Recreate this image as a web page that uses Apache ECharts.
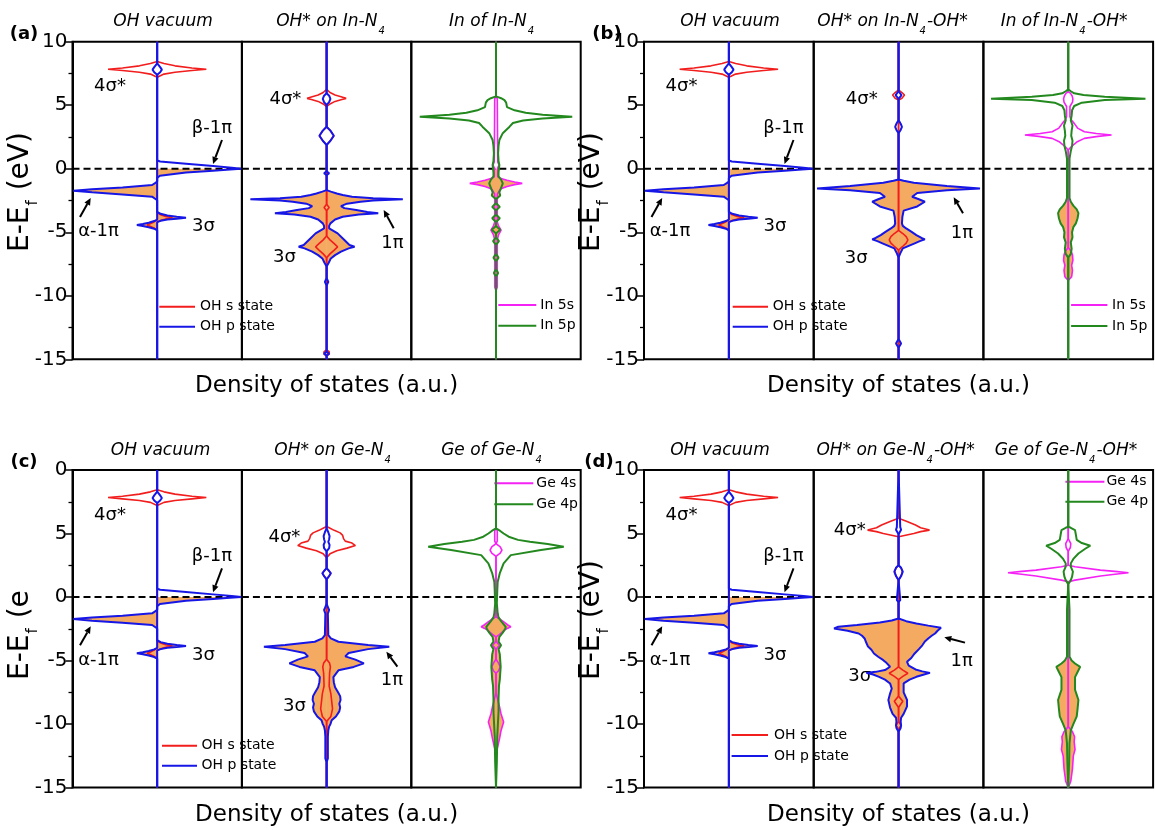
<!DOCTYPE html>
<html><head><meta charset="utf-8">
<script src="https://cdn.jsdelivr.net/npm/echarts@6/dist/echarts.min.js"></script>
<style>html,body{margin:0;padding:0;background:#fff}#c{width:1155px;height:830px}</style>
</head><body><div id="c"></div>
<script>
// ---------- axis ranges / ticks ----------
const E_MIN = -15, E_MAX = 10, E_STEP = 5;
const DOS_HALF = 10;

// ---------- data: [energy (eV), DOS (a.u.)] ----------
// OH vacuum (identical in all four panels)
const ohVacS_up = [[-15,0],[-4.85,0],[-4.7,0.3],[-4.56,0.7],[-4.43,1.2],[-4.3,0.7],[-4.15,0.3],[-4.0,0],[7.2,0],[7.45,0.8],[7.6,2.1],[7.73,4.1],[7.83,5.8],[7.93,4.1],[8.1,2.1],[8.28,0.8],[8.45,0],[10,0]];
const ohVacS_dn = [[-15,0],[-4.2,0],[-4.08,0.4],[-3.96,1.0],[-3.86,1.8],[-3.76,1.0],[-3.62,0.4],[-3.45,0],[7.2,0],[7.45,0.8],[7.6,2.1],[7.73,4.1],[7.83,5.8],[7.93,4.1],[8.1,2.1],[8.28,0.8],[8.45,0],[10,0]];
const ohVacP_up = [[-15,0],[-4.85,0],[-4.72,0.35],[-4.6,1.0],[-4.5,1.7],[-4.43,2.4],[-4.35,1.7],[-4.25,1.0],[-4.12,0.35],[-4.0,0],[-2.48,0],[-2.36,0.25],[-2.2,0.6],[-2.02,4.1],[-1.86,7.7],[-1.73,9.9],[-1.62,7.7],[-1.47,4.1],[-1.28,0.6],[-1.13,0.25],[-1.0,0],[7.4,0],[7.6,0.35],[7.8,0.55],[8.0,0.35],[8.3,0],[10,0]];
const ohVacP_dn = [[-15,0],[-4.2,0],[-4.1,0.4],[-4.0,1.2],[-3.93,2.3],[-3.86,3.4],[-3.78,2.3],[-3.68,1.2],[-3.55,0.4],[-3.4,0],[-0.72,0],[-0.55,0.32],[-0.3,3.4],[-0.15,6.6],[-0.06,8.6],[0,9.9],[0.08,8.8],[0.21,6.6],[0.4,3.4],[0.57,0.35],[0.63,0.3],[0.65,0],[7.4,0],[7.6,0.35],[7.8,0.55],[8.0,0.35],[8.3,0],[10,0]];

// OH* on In-N4
const inN4_S = [[-15,0],[-14.75,0],[-14.6,0.3],[-14.5,0.45],[-14.4,0.3],[-14.25,0],[-7.0,0],[-6.7,0.4],[-6.4,0.9],[-6.15,1.3],[-5.9,0.9],[-5.6,0.4],[-5.3,0],[-3.3,0],[-3.05,0.3],[-2.8,0],[1.87,0],[2.2,0.45],[2.6,0.85],[3.0,0.45],[3.3,0],[4.88,0],[5.1,0.4],[5.3,1.0],[5.45,1.8],[5.54,2.3],[5.65,1.8],[5.8,1.0],[6.0,0.4],[6.25,0],[10,0]];
const inN4_P = [[-15,0],[-14.7,0],[-14.55,0.3],[-14.4,0],[-9.2,0],[-8.9,0.2],[-8.6,0],[-7.7,0],[-7.4,0.25],[-7.06,0.5],[-6.8,1.0],[-6.53,1.7],[-6.27,2.6],[-6.14,3.3],[-6.0,2.7],[-5.61,2.1],[-5.09,1.3],[-4.85,0.7],[-4.7,0.3],[-4.5,0.3],[-4.3,0.45],[-4.17,0.6],[-4.0,1.0],[-3.78,1.9],[-3.6,3.8],[-3.51,6.1],[-3.4,4.8],[-3.25,3.5],[-3.1,2.1],[-2.94,1.7],[-2.75,2.4],[-2.6,4.0],[-2.5,5.5],[-2.41,9.0],[-2.33,5.5],[-2.2,3.0],[-2.07,1.9],[-1.95,1.2],[-1.8,0.5],[-1.68,0],[-0.5,0],[-0.35,0.3],[-0.2,0],[1.87,0],[2.2,0.45],[2.6,0.85],[3.0,0.45],[3.3,0],[5.02,0],[5.25,0.3],[5.5,0.45],[5.75,0.3],[5.94,0],[10,0]];
// In of In-N4
const inN4_In5s = [[-15,0],[-9.6,0],[-9.3,0.15],[-5.6,0.15],[-5.2,0.3],[-4.83,0.6],[-4.5,0.3],[-4.2,0.15],[-2.0,0.15],[-1.85,0],[-1.6,0.5],[-1.4,1.3],[-1.25,2.2],[-1.15,3.1],[-1.05,2.2],[-0.9,1.3],[-0.75,0.5],[-0.63,0.2],[0.05,0.2],[0.3,0.35],[0.55,0.2],[5.5,0.15],[5.7,0],[10,0]];
const inN4_In5p = [[-15,0],[-8.5,0],[-8.2,0.25],[-7.9,0],[-7.3,0],[-7.0,0.3],[-6.7,0],[-6.0,0],[-5.7,0.35],[-5.4,0],[-5.1,0],[-4.8,0.5],[-4.5,0],[-4.2,0],[-3.9,0.45],[-3.6,0],[-3.3,0],[-3.0,0.45],[-2.7,0],[-2.4,0],[-2.1,0.5],[-1.85,0.4],[-1.6,0.55],[-1.15,0.8],[-0.85,0.6],[-0.6,0.3],[-0.3,0.3],[0,0.35],[0.3,0.4],[0.6,0.3],[1.2,0.25],[1.8,0.3],[2.26,0.4],[2.8,0.8],[3.31,1.6],[3.6,2.0],[3.8,3.2],[3.95,5.5],[4.1,9.0],[4.25,5.5],[4.4,3.5],[4.6,2.2],[4.85,1.3],[5.0,1.1],[5.2,1.2],[5.4,1.0],[5.55,0.6],[5.7,0],[10,0]];

// OH* on In-N4-OH*
const inN4OH_S = [[-15,0],[-6.4,0],[-6.1,0.5],[-5.85,0.9],[-5.6,1.1],[-5.35,0.9],[-5.1,0.5],[-4.85,0],[5.4,0],[5.55,0.4],[5.8,0.7],[6.0,0.4],[6.2,0],[10,0]];
const inN4OH_P = [[-15,0],[-14.1,0],[-13.75,0.3],[-13.4,0],[-7.0,0],[-6.66,0.2],[-6.27,0.5],[-5.87,1.9],[-5.7,2.5],[-5.56,3.1],[-5.45,2.7],[-5.22,2.1],[-4.95,1.5],[-4.7,0.9],[-4.5,0.5],[-4.3,0.4],[-3.8,0.45],[-3.3,0.6],[-2.97,2.2],[-2.6,3.1],[-2.4,2.4],[-2.2,1.6],[-1.91,2.2],[-1.7,5.7],[-1.55,9.6],[-1.35,5.7],[-1.1,1.8],[-0.95,0.6],[-0.84,0],[2.79,0],[3.05,0.25],[3.3,0.4],[3.55,0.25],[3.83,0],[5.5,0],[5.65,0.2],[5.8,0.35],[5.95,0.2],[6.1,0],[10,0]];
// In of In-N4-OH*
const inN4OH_In5s = [[-15,0],[-8.8,0],[-8.5,0.4],[-8.0,0.5],[-7.6,0.4],[-7.2,0.55],[-6.8,0.5],[-6.5,0.35],[-6.2,0],[1.47,0],[1.73,0.35],[2.1,1.0],[2.39,1.9],[2.55,3.5],[2.65,5.1],[2.78,3.3],[2.91,1.9],[3.2,1.1],[3.57,0.7],[3.85,0.35],[4.1,0.2],[4.9,0.2],[5.0,0.3],[5.25,0.5],[5.5,0.55],[5.75,0.45],[5.95,0.25],[6.05,0],[10,0]];
const inN4OH_In5p = [[-15,0],[-7.0,0],[-6.7,0.3],[-6.3,0.4],[-5.8,0.3],[-5.4,0.5],[-5.0,0.45],[-4.6,0.6],[-4.3,0.9],[-3.9,1.1],[-3.5,1.2],[-3.2,1.0],[-2.9,0.6],[-2.6,0.3],[-2.3,0.15],[0.8,0.15],[1.4,0.3],[1.8,0.45],[2.2,0.5],[2.6,0.35],[3.0,0.4],[3.4,0.5],[3.8,0.3],[4.2,0.4],[4.6,0.45],[4.94,0.7],[5.2,1.6],[5.41,4.3],[5.51,9.1],[5.67,4.3],[5.8,1.8],[5.94,0.7],[6.1,0.3],[6.25,0],[10,0]];

// OH* on Ge-N4
const geN4_S = [[-15,0],[-9.8,0],[-9.4,0.5],[-8.8,0.7],[-8.2,0.6],[-7.6,0.5],[-7.0,0.3],[-6.0,0.35],[-5.5,0.45],[-5.2,0.35],[-4.9,0],[1.4,0],[1.65,0.3],[1.87,0.5],[2.05,0.3],[2.27,0],[3.1,0],[3.4,0.4],[3.65,1.2],[3.85,2.4],[4.05,3.4],[4.15,3.6],[4.25,3.0],[4.4,2.2],[4.6,2.0],[4.85,1.9],[5.05,1.6],[5.25,0.9],[5.45,0.3],[5.55,0],[10,0]];
const geN4_P = [[-15,0],[-13,0],[-12.7,0.15],[-11,0.15],[-10.5,0.2],[-10.2,0.3],[-10.0,0.45],[-9.7,0.6],[-9.4,1.1],[-9.0,1.5],[-8.7,1.6],[-8.4,1.5],[-8.1,1.65],[-7.8,1.6],[-7.5,1.35],[-7.1,1.0],[-6.7,0.85],[-6.3,0.8],[-5.77,1.4],[-5.5,3.2],[-5.22,4.4],[-4.93,3.4],[-4.67,2.2],[-4.41,2.6],[-4.1,4.9],[-3.91,7.4],[-3.78,4.9],[-3.52,1.4],[-3.25,0.5],[-3.0,0.2],[-1.3,0.15],[-1.02,0.3],[-0.8,0.15],[-0.5,0],[1.4,0],[1.65,0.3],[1.87,0.5],[2.05,0.3],[2.27,0],[3.6,0],[3.85,0.3],[4.1,0.35],[4.35,0.2],[4.55,0.3],[4.8,0.35],[5.1,0.2],[5.4,0],[10,0]];
// Ge of Ge-N4
const geN4_Ge4s = [[-15,0],[-12.2,0],[-11.8,0.2],[-11.2,0.4],[-10.5,0.6],[-9.83,0.9],[-9.2,0.6],[-8.6,0.4],[-8.1,0.2],[-7.5,0],[-6.0,0],[-5.8,0.3],[-5.5,0.5],[-5.2,0.3],[-4.9,0],[-4.1,0],[-3.8,0.4],[-3.5,0],[-3.13,0],[-2.9,0.5],[-2.6,1.0],[-2.45,1.4],[-2.34,1.75],[-2.2,1.4],[-2.0,1.0],[-1.75,0.5],[-1.55,0],[3.2,0],[3.45,0.5],[3.7,0.7],[3.95,0.5],[4.2,0],[4.4,0.15],[5.2,0.15],[5.4,0],[10,0]];
const geN4_Ge4p = [[-15,0],[-13,0.1],[-11,0.15],[-9,0.3],[-8,0.3],[-7,0.35],[-6.5,0.45],[-6.0,0.5],[-5.5,0.55],[-5.0,0.5],[-4.5,0.45],[-4.1,0.3],[-3.8,0.6],[-3.5,0.3],[-3.13,0.4],[-2.8,0.8],[-2.5,1.1],[-2.34,1.15],[-2.2,1.0],[-1.9,0.6],[-1.6,0.3],[-1.3,0.2],[-0.5,0.1],[0.5,0.15],[1.2,0.2],[1.86,0.44],[2.65,0.9],[3.3,1.75],[3.7,5.3],[3.96,8.0],[4.17,6.1],[4.35,4.0],[4.5,2.6],[4.75,1.5],[5.0,0.9],[5.2,0.5],[5.4,0],[10,0]];

// OH* on Ge-N4-OH*
const geN4OH_S = [[-15,0],[-10.4,0],[-10.1,0.3],[-9.8,0],[-8.7,0],[-8.2,0.5],[-7.8,0],[-6.5,0],[-6.25,0.5],[-6.0,1.1],[-5.75,0.5],[-5.5,0],[1.33,0],[1.65,0.3],[2.0,0.45],[2.3,0.3],[2.5,0],[4.75,0],[5.0,1.8],[5.15,2.6],[5.27,3.65],[5.45,2.6],[5.67,2.0],[5.95,1.0],[6.2,0],[10,0]];
const geN4OH_P_up = [[-15,0],[-10.6,0],[-10.3,0.25],[-10.1,0.3],[-9.8,0.25],[-9.5,0.3],[-9.2,0.7],[-8.7,1.0],[-8.1,1.2],[-7.6,1.0],[-7.2,0.8],[-6.8,1.0],[-6.5,1.6],[-6.28,2.3],[-6.1,3.0],[-5.97,3.8],[-5.89,2.7],[-5.75,1.6],[-5.49,1.0],[-5.2,1.4],[-4.97,1.8],[-4.7,2.4],[-4.44,2.9],[-4.15,3.2],[-3.9,3.6],[-3.6,3.8],[-3.26,4.0],[-3.05,4.3],[-2.87,4.7],[-2.65,6.0],[-2.47,7.6],[-2.34,7.1],[-2.2,4.9],[-2.0,2.2],[-1.85,0.8],[-1.69,0],[-0.4,0],[-0.24,0.2],[-0.1,0],[1.33,0],[1.65,0.3],[2.0,0.5],[2.3,0.3],[2.5,0],[4.95,0],[5.1,0.2],[5.3,0.3],[5.5,0.2],[5.65,0],[10,0]];
const geN4OH_P_dn = [[-15,0],[-10.6,0],[-10.3,0.25],[-10.1,0.3],[-9.8,0.25],[-9.5,0.3],[-9.2,0.6],[-8.6,1.0],[-8.1,1.0],[-7.5,0.6],[-6.8,0.6],[-6.5,1.3],[-6.28,2.1],[-6.1,3.0],[-5.97,3.7],[-5.85,2.8],[-5.7,2.0],[-5.4,1.2],[-5.1,1.0],[-4.8,1.5],[-4.44,1.9],[-4.1,2.4],[-3.8,2.8],[-3.5,3.1],[-3.26,3.5],[-3.05,3.9],[-2.87,4.3],[-2.65,4.6],[-2.42,5.0],[-2.25,3.5],[-2.08,2.1],[-1.9,0.9],[-1.69,0],[-0.4,0],[-0.24,0.2],[-0.1,0],[1.33,0],[1.65,0.3],[2.0,0.5],[2.3,0.3],[2.5,0],[4.95,0],[5.1,0.2],[5.3,0.3],[5.5,0.2],[5.65,0],[10,0]];
// Ge of Ge-N4-OH*
const geN4OH_Ge4s = [[-15,0],[-14.5,0.3],[-13.5,0.5],[-12.5,0.6],[-12.0,0.8],[-11.4,0.7],[-11.0,0.75],[-10.6,0.5],[-10.2,0],[1.2,0],[1.33,0.8],[1.65,3.8],[1.8,5.5],[1.91,7.1],[2.02,5.5],[2.12,3.8],[2.38,0.8],[2.5,0],[3.6,0],[3.9,0.25],[4.2,0.3],[4.6,0],[10,0]];
const geN4OH_Ge4p = [[-15,0],[-13,0.1],[-11.5,0.15],[-10.5,0.3],[-10.0,0.6],[-9.4,1.0],[-8.8,1.1],[-8.1,1.2],[-7.7,1.0],[-7.3,0.8],[-6.8,0.8],[-6.3,0.8],[-5.9,1.1],[-5.5,1.4],[-5.23,0.8],[-5.0,0.4],[-4.7,0.15],[-1.0,0.15],[1.0,0],[1.33,0.3],[1.6,0.45],[2.0,0.55],[2.4,0.3],[2.65,0.3],[3.0,0.6],[3.43,1.2],[3.8,2.0],[4.04,2.6],[4.25,1.6],[4.5,1.0],[4.9,0.9],[5.27,0.8],[5.45,0.3],[5.53,0],[10,0]];

// ---------- texts ----------
const xTitle = 'Density of states (a.u.)';
const panelLabels = ['(a)','(b)','(c)','(d)'];
const titlesA = ['{t|OH vacuum}','{t|OH* on In-N}{s|4}','{t|In of In-N}{s|4}'];
const titlesB = ['{t|OH vacuum}','{t|OH* on In-N}{s|4}{t|-OH*}','{t|In of In-N}{s|4}{t|-OH*}'];
const titlesC = ['{t|OH vacuum}','{t|OH* on Ge-N}{s|4}','{t|Ge of Ge-N}{s|4}'];
const titlesD = ['{t|OH vacuum}','{t|OH* on Ge-N}{s|4}{t|-OH*}','{t|Ge of Ge-N}{s|4}{t|-OH*}'];
const legOH = ['OH s state','OH p state'];
const legIn = ['In 5s','In 5p'];
const legGe = ['Ge 4s','Ge 4p'];

// ---------- styles ----------
const RED='#F21D1D', BLUE='#1616E6', MAG='#F522F5', GRN='#23891F', FILL='#F5AA62';
const F='DejaVu Sans';
const COL = {s:RED, p:BLUE, m:MAG, g:GRN};
const H = 317.6;

const ohVacCurves = [[ohVacS_up,-1,'s'],[ohVacS_dn,1,'s'],[ohVacP_up,-1,'p'],[ohVacP_dn,1,'p']];
const ohVacNotes = {texts:[['4σ*',37.5,45],['β-1π',139.5,86.3],['α-1π',26,190],['3σ',131,185]], arrows:[[149.5,98.3,140.5,122.3],[7.5,175.3,18.2,156.3]]};

const PANELS = [
 {label:panelLabels[0], lx:24, ly:34, x:72.5, y:41.7, w:169.4, yl:{x:22, y:252, full:true}, titleY:23.3, titleDx:[5.8,4.4,-4],
  subs:[
   {title:titlesA[0], curves:ohVacCurves, notes:ohVacNotes, legend:{names:legOH, cols:[RED,BLUE], x1:86.8, x2:122.5, tx:127.5, y:[265,285]}},
   {title:titlesA[1], curves:[[inN4_S,-1,'s'],[inN4_S,1,'s'],[inN4_P,-1,'p'],[inN4_P,1,'p']], notes:{texts:[['4σ*',43.5,57.3],['1π',150.5,201.6],['3σ',42.5,215.3]], arrows:[[151.8,186.6,141.8,168.3]]}},
   {title:titlesA[2], curves:[[inN4_In5s,-1,'m'],[inN4_In5s,1,'m'],[inN4_In5p,-1,'g'],[inN4_In5p,1,'g']], legend:{names:legIn, cols:[MAG,GRN], x1:87, x2:125, tx:129, y:[263.3,284]}}
  ]},
 {label:panelLabels[1], lx:607, ly:34, x:644, y:41.7, w:169.7, yl:{x:593, y:252, full:true}, titleY:23.3, titleDx:[1.2,-6,-4.2],
  subs:[
   {title:titlesB[0], curves:ohVacCurves, notes:ohVacNotes, legend:{names:legOH, cols:[RED,BLUE], x1:88.7, x2:124, tx:128.7, y:[265,285]}},
   {title:titlesB[1], curves:[[inN4OH_S,-1,'s'],[inN4OH_S,1,'s'],[inN4OH_P,-1,'p'],[inN4OH_P,1,'p']], notes:{texts:[['4σ*',48,57.3],['1π',148.3,191.3],['3σ',42.5,216.3]], arrows:[[149.3,171.6,140,155.6]]}},
   {title:titlesB[2], curves:[[inN4OH_In5s,-1,'m'],[inN4OH_In5s,1,'m'],[inN4OH_In5p,-1,'g'],[inN4OH_In5p,1,'g']], legend:{names:legIn, cols:[MAG,GRN], x1:87.7, x2:124, tx:128.7, y:[263.3,284.3]}}
  ]},
 {label:panelLabels[2], lx:24, ly:462, x:72.5, y:470, w:169.4, yl:{x:22, y:680, full:false}, titleY:452, titleDx:[3.3,6.4,-4], topLabel:'0',
  subs:[
   {title:titlesC[0], curves:ohVacCurves, notes:ohVacNotes, legend:{names:legOH, cols:[RED,BLUE], x1:89.5, x2:124.5, tx:129, y:[275.7,295.7]}},
   {title:titlesC[1], curves:[[geN4_S,-1,'s'],[geN4_S,1,'s'],[geN4_P,-1,'p'],[geN4_P,1,'p']], notes:{texts:[['4σ*',42.5,67],['1π',150,210],['3σ',52.5,236.6]], arrows:[[155.5,196.7,144.5,181.7]]}},
   {title:titlesC[2], curves:[[geN4_Ge4s,-1,'m'],[geN4_Ge4s,1,'m'],[geN4_Ge4p,-1,'g'],[geN4_Ge4p,1,'g']], legend:{names:legGe, cols:[MAG,GRN], x1:83, x2:122, tx:125, y:[13.3,34.3]}}
  ]},
 {label:panelLabels[3], lx:599, ly:462, x:644, y:470, w:169.7, yl:{x:593, y:680, full:true}, titleY:452, titleDx:[-8.9,-3,-2.2],
  subs:[
   {title:titlesD[0], curves:ohVacCurves, notes:ohVacNotes, legend:{names:legOH, cols:[RED,BLUE], x1:87.6, x2:124, tx:130, y:[265,286]}},
   {title:titlesD[1], curves:[[geN4OH_S,-1,'s'],[geN4OH_S,1,'s'],[geN4OH_P_up,-1,'p'],[geN4OH_P_dn,1,'p']], notes:{texts:[['4σ*',36,60],['1π',148,191.7],['3σ',46,206.7]], arrows:[[151.3,172.6,130.6,167.3]]}},
   {title:titlesD[2], curves:[[geN4OH_Ge4s,-1,'m'],[geN4OH_Ge4s,1,'m'],[geN4OH_Ge4p,-1,'g'],[geN4OH_Ge4p,1,'g']], legend:{names:legGe, cols:[MAG,GRN], x1:82, x2:121, tx:123, y:[11.7,31.7]}}
  ]}
];

// ---------- builders ----------
function toXY(pts, sign){ return pts.map(p => [sign*p[1], p[0]]); }

function lineSeries(gi, pts, sign, color, z, w){
  return {type:'line', xAxisIndex:gi, yAxisIndex:gi, data:toXY(pts,sign), symbol:'none', showSymbol:false,
    lineStyle:{color:color, width:w}, z:z, silent:true, animation:false, emphasis:{disabled:true}};
}
function fillSeries(gi, pts, sign){
  const xy = toXY(pts, sign);
  return {type:'custom', xAxisIndex:gi, yAxisIndex:gi, data:xy, silent:true, z:1, animation:false,
    renderItem:function(params, api){
      if (params.dataIndex !== 0) return null;
      const neg = xy.filter(p => p[1] <= 0);
      if (!neg.length) return null;
      const poly = [api.coord([0, neg[0][1]])];
      neg.forEach(p => poly.push(api.coord(p)));
      poly.push(api.coord([0, neg[neg.length-1][1]]));
      return {type:'polygon', shape:{points:poly}, style:{fill:FILL, stroke:null}};
    }};
}
function arrowEls(tx,ty,hx,hy){
  const a=Math.atan2(hy-ty,hx-tx), L=7, W=3.2;
  const bx=hx-L*Math.cos(a), by=hy-L*Math.sin(a);
  const px=-Math.sin(a), py=Math.cos(a);
  return [
    {type:'line', silent:true, shape:{x1:tx,y1:ty,x2:bx,y2:by}, style:{stroke:'#000', lineWidth:2}},
    {type:'polygon', silent:true, shape:{points:[[hx,hy],[bx+W*px,by+W*py],[bx-W*px,by-W*py]]}, style:{fill:'#000'}}
  ];
}
function text(x,y,t,st){
  return {type:'text', silent:true, x:x, y:y, style:Object.assign({text:t, fill:'#000', fontFamily:F, fontSize:16, align:'center', verticalAlign:'middle'}, st||{})};
}

const grids=[], xAxes=[], yAxes=[], series=[], graphics=[];
PANELS.forEach(P => {
  graphics.push(text(P.lx, P.ly, P.label, {fontSize:18, fontWeight:'bold'}));
  const ylText = P.yl.full ? '{m|E-E}{s|f}{m| (eV)}' : '{m|E-E}{s|f}{m| (e}';
  graphics.push({type:'text', silent:true, x:P.yl.x, y:P.yl.y, rotation:Math.PI/2,
    style:{text:ylText, fill:'#000', align:'left', verticalAlign:'middle',
      rich:{m:{fontFamily:F, fontSize:28, lineHeight:30, verticalAlign:'top'}, s:{fontFamily:F, fontSize:15, lineHeight:15, padding:[19,1,0,1], verticalAlign:'top'}}}});
  graphics.push(text(P.x + 1.5*P.w, P.y + H + 27, xTitle, {fontSize:23}));
  P.subs.forEach((S, si) => {
    const gi = grids.length;
    const gx = P.x + si*P.w;
    grids.push({left:gx, top:P.y, width:P.w, height:H, show:true, borderColor:'#000', borderWidth:2, backgroundColor:'rgba(0,0,0,0)', containLabel:false});
    xAxes.push({gridIndex:gi, type:'value', min:-DOS_HALF, max:DOS_HALF, show:false});
    const first = si === 0;
    yAxes.push({gridIndex:gi, type:'value', min:E_MIN, max:E_MAX, interval:E_STEP, show:first,
      axisLine:{show:true, onZero:false, lineStyle:{color:'#000', width:2}},
      axisTick:{show:true, inside:false, length:7, lineStyle:{color:'#000', width:1.5}},
      minorTick:{show:true, splitNumber:2, length:4, lineStyle:{color:'#000', width:1.3}},
      splitLine:{show:false}, minorSplitLine:{show:false},
      axisLabel:{show:true, color:'#000', fontFamily:F, fontSize:20, margin:5,
        formatter: v => (P.topLabel && v === E_MAX) ? P.topLabel : String(v)}});
    S.curves.forEach(c => series.push(fillSeries(gi, c[0], c[1])));
    series.push({type:'line', xAxisIndex:gi, yAxisIndex:gi, data:[[-DOS_HALF,0],[DOS_HALF,0]], symbol:'none', silent:true, z:2, animation:false,
      lineStyle:{color:'#000', width:2, type:[7,4]}});
    S.curves.filter(c => c[2]==='s' || c[2]==='m').forEach(c => series.push(lineSeries(gi, c[0], c[1], COL[c[2]], 3, 1.6)));
    S.curves.filter(c => c[2]==='p' || c[2]==='g').forEach(c => series.push(lineSeries(gi, c[0], c[1], COL[c[2]], 4, 2)));
    graphics.push({type:'text', silent:true, x: gx + P.w/2 + P.titleDx[si], y: P.titleY,
      style:{text:S.title, align:'center', verticalAlign:'middle', fill:'#000',
        rich:{t:{fontFamily:F, fontSize:17, fontStyle:'italic', lineHeight:20, verticalAlign:'top'}, s:{fontFamily:F, fontSize:10, fontStyle:'italic', lineHeight:10, padding:[13,1,0,1], verticalAlign:'top'}}}});
    if (S.notes){
      S.notes.texts.forEach(t => graphics.push(text(gx + t[1], P.y + t[2], t[0], {fontSize:18})));
      S.notes.arrows.forEach(a => arrowEls(gx+a[0], P.y+a[1], gx+a[2], P.y+a[3]).forEach(e => graphics.push(e)));
    }
    if (S.legend){
      const L = S.legend;
      L.names.forEach((n, k) => {
        graphics.push({type:'line', silent:true, shape:{x1:gx+L.x1, y1:P.y+L.y[k], x2:gx+L.x2, y2:P.y+L.y[k]}, style:{stroke:L.cols[k], lineWidth:2}});
        graphics.push(text(gx+L.tx, P.y+L.y[k], n, {fontSize:14, align:'left'}));
      });
    }
  });
});

const chart = echarts.init(document.getElementById('c'), null, {renderer:'canvas'});
chart.setOption({
  animation:false, backgroundColor:'#fff',
  textStyle:{fontFamily:F},
  grid:grids, xAxis:xAxes, yAxis:yAxes, series:series,
  graphic:{elements:graphics}
});
</script></body></html>
